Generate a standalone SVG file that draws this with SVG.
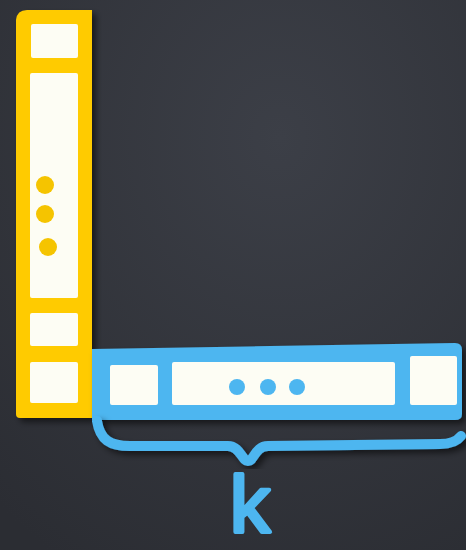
<svg xmlns="http://www.w3.org/2000/svg" width="466" height="550" viewBox="0 0 466 550">
  <defs>
    <radialGradient id="bg" cx="0.6" cy="0.25" r="0.9">
      <stop offset="0" stop-color="#3c3f47"/>
      <stop offset="1" stop-color="#2b2d33"/>
    </radialGradient>
    <filter id="sh" x="-20%" y="-20%" width="140%" height="140%">
      <feDropShadow dx="4" dy="4" stdDeviation="3" flood-color="#000" flood-opacity="0.55"/>
    </filter>
    <style>
      .yel { fill: #ffcb05; }
      .blu { fill: #4db6f0; }
      .cell { fill: #fdfdf4; }
      .ydot { fill: #f5c400; }
      .bdot { fill: #4db6f0; }
      .brace { fill: none; stroke: #4db6f0; stroke-width: 10; stroke-linecap: round; stroke-linejoin: round; }
      .lbl { font-family: "Liberation Sans", Arial, sans-serif; font-size: 80px; fill: #4db6f0; stroke: #4db6f0; stroke-width: 4; stroke-linejoin: round; }
    </style>
  </defs>
  <rect x="0" y="0" width="466" height="550" fill="url(#bg)"/>

  <g id="column" filter="url(#sh)">
    <path class="yel" d="M16,20 Q17,10 27,10 L92,10 L92,418 L20,418 Q16,418 16,414 Z"/>
    <rect class="cell" x="31" y="24" width="47" height="34" rx="2"/>
    <rect class="cell" x="30" y="73" width="48" height="225" rx="2"/>
    <rect class="cell" x="30" y="313" width="48" height="33" rx="2"/>
    <rect class="cell" x="30" y="362" width="48" height="41" rx="2"/>
    <circle class="ydot" cx="45" cy="185" r="9"/>
    <circle class="ydot" cx="45" cy="214" r="9"/>
    <circle class="ydot" cx="48" cy="247" r="9"/>
  </g>

  <g id="row" filter="url(#sh)">
    <path class="blu" d="M92,349 L455,343 Q462,343 462,350 L462,414 Q462,420 455,420 L92,420 Z"/>
    <rect class="cell" x="110" y="365" width="48" height="40" rx="2"/>
    <rect class="cell" x="172" y="362" width="223" height="43" rx="2"/>
    <rect class="cell" x="410" y="356" width="47" height="49" rx="2"/>
    <circle class="bdot" cx="237" cy="387" r="8"/>
    <circle class="bdot" cx="268" cy="387" r="8"/>
    <circle class="bdot" cx="297" cy="387" r="8"/>
  </g>

  <g id="connectors" filter="url(#sh)">
    <path class="brace" d="M97,421 C100,440 110,446 130,446 L228,446 C240,446 242,461 248,461 C254,461 255,446 268,446 L440,444 C452,444 458,440 461,436"/>
  </g>

  <g id="label">
    <text class="lbl" x="230" y="532">k</text>
  </g>
</svg>
